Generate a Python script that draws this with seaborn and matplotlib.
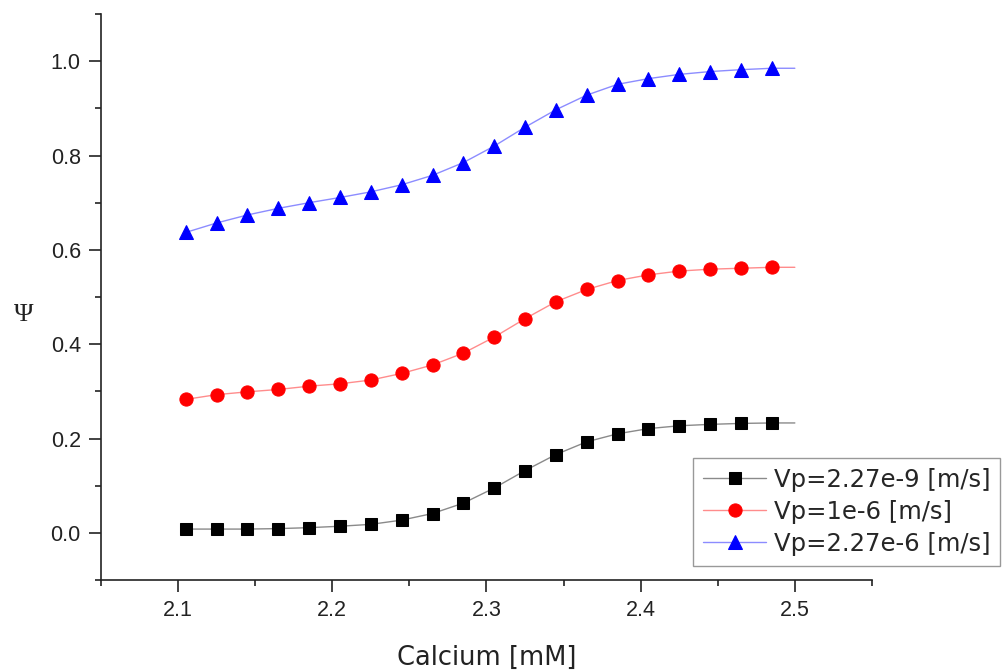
import matplotlib
matplotlib.use("Agg")
import matplotlib.pyplot as plt
from matplotlib.ticker import MultipleLocator
import pandas as pd
import seaborn as sns

# data (last x is the end of the connecting line, no marker)
calcium = [2.105, 2.125, 2.145, 2.165, 2.185, 2.205, 2.225, 2.245, 2.265, 2.285,
           2.305, 2.325, 2.345, 2.365, 2.385, 2.405, 2.425, 2.445, 2.465, 2.485, 2.5]
psi_slow = [0.008, 0.008, 0.008, 0.009, 0.011, 0.014, 0.018, 0.027, 0.041, 0.063,
            0.095, 0.132, 0.166, 0.193, 0.210, 0.221, 0.227, 0.230, 0.232, 0.233, 0.233]
psi_mid = [0.283, 0.293, 0.299, 0.304, 0.311, 0.316, 0.324, 0.338, 0.356, 0.381,
           0.415, 0.454, 0.490, 0.516, 0.535, 0.547, 0.555, 0.559, 0.561, 0.563, 0.563]
psi_fast = [0.637, 0.657, 0.674, 0.688, 0.700, 0.711, 0.723, 0.738, 0.758, 0.785,
            0.820, 0.860, 0.897, 0.928, 0.951, 0.963, 0.972, 0.978, 0.982, 0.985, 0.985]
labels = ["Vp=2.27e-9 [m/s]", "Vp=1e-6 [m/s]", "Vp=2.27e-6 [m/s]"]

df = pd.DataFrame({"calcium": calcium, "s1": psi_slow, "s2": psi_mid, "s3": psi_fast})

sns.set_style("ticks")
plt.rcParams["font.family"] = ["DejaVu Sans"]

fig = plt.figure(figsize=(10.02, 6.71), dpi=100)
ax = fig.add_axes([0.1008, 0.1356, 0.7694, 0.8435])

styles = [
    ("s1", "s", "#000000", "#8a8a8a", 8.8),
    ("s2", "o", "#ff0000", "#ff8c8c", 9.5),
    ("s3", "^", "#0000ff", "#8c8cff", 10.5),
]
for (col, mk, mc, lc, ms), lab in zip(styles, labels):
    sns.lineplot(data=df, x="calcium", y=col, ax=ax, color=lc, linewidth=1.0,
                 marker=mk, markersize=ms, markerfacecolor=mc, markeredgecolor=mc,
                 markevery=slice(0, 20), label=lab)

ax.set_xlim(2.05, 2.55)
ax.set_ylim(-0.1, 1.1)
ax.xaxis.set_major_locator(MultipleLocator(0.1))
ax.xaxis.set_minor_locator(MultipleLocator(0.05))
ax.yaxis.set_major_locator(MultipleLocator(0.2))
ax.yaxis.set_minor_locator(MultipleLocator(0.1))
ax.set_xticks([2.1, 2.2, 2.3, 2.4, 2.5])
ax.set_xticklabels(["2.1", "2.2", "2.3", "2.4", "2.5"])
ax.set_yticks([0.0, 0.2, 0.4, 0.6, 0.8, 1.0])
ax.set_yticklabels(["0.0", "0.2", "0.4", "0.6", "0.8", "1.0"])

sns.despine(ax=ax)
for s in ["left", "bottom"]:
    ax.spines[s].set_linewidth(1.2)
    ax.spines[s].set_color("#222222")
ax.tick_params(which="major", length=8.5, width=1.2, color="#222222", pad=6,
               labelsize=15.5, labelcolor="#222222")
ax.tick_params(which="minor", length=4.5, width=1.2, color="#222222")
for t in ax.get_xticklabels() + ax.get_yticklabels():
    t.set_fontfamily("Liberation Sans")

ax.set_xlabel("Calcium [mM]", fontsize=18.5, color="#222222")
ax.xaxis.set_label_coords(0.5, -0.115)
ax.set_ylabel("Ψ", fontsize=19, rotation=0, family="Liberation Serif",
              color="#222222", ha="center", va="center")
ax.yaxis.set_label_coords(-0.10, 0.468)

leg = ax.legend(loc="upper right", bbox_to_anchor=(0.998, 0.3174),
                bbox_transform=fig.transFigure, fontsize=17.5, frameon=True,
                fancybox=False, edgecolor="#999999", framealpha=1,
                handlelength=2.6, handletextpad=0.3, borderpad=0.4,
                labelspacing=0.33, borderaxespad=0)
leg.get_frame().set_linewidth(1.0)

fig.savefig("out.png", dpi=100)
